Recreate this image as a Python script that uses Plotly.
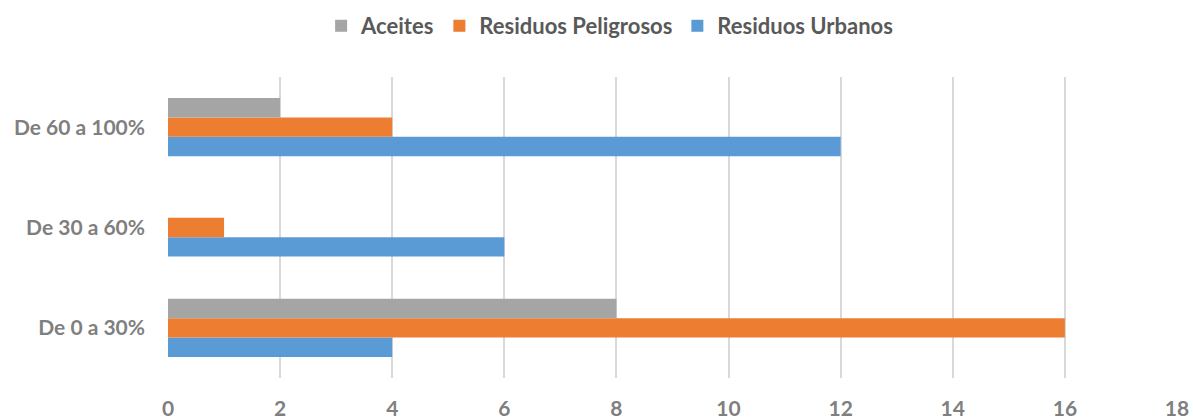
import plotly.graph_objects as go

categories = ["De 0 a 30%", "De 30 a 60%", "De 60 a 100%"]
urbanos = [4, 6, 12]
peligrosos = [16, 1, 4]
aceites = [8, 0, 2]
x_ticks = [0, 2, 4, 6, 8, 10, 12, 14, 16, 18]

fig = go.Figure()
fig.add_trace(go.Bar(y=categories, x=urbanos, name="Residuos Urbanos", orientation="h",
                     marker=dict(color="#5B9BD5", line=dict(width=0))))
fig.add_trace(go.Bar(y=categories, x=peligrosos, name="Residuos Peligrosos", orientation="h",
                     marker=dict(color="#ED7D31", line=dict(width=0))))
fig.add_trace(go.Bar(y=categories, x=aceites, name="Aceites", orientation="h",
                     marker=dict(color="#A5A5A5", line=dict(width=0))))

tick_font = dict(size=21, color="#7F7F7F", family="Lato", weight="bold")

fig.update_layout(
    width=1193, height=419,
    margin=dict(l=168, r=16, t=77, b=41),
    paper_bgcolor="white", plot_bgcolor="white",
    barmode="group", bargap=0.42, bargroupgap=0,
    font=dict(family="Lato", size=21, color="#7F7F7F"),
    legend=dict(orientation="h", traceorder="reversed", xref="container", yref="container",
                x=0.511, xanchor="center", y=0.938, yanchor="middle",
                font=dict(size=22, color="#595959", family="Lato", weight="bold"),
                itemwidth=30),
    xaxis=dict(range=[0, 18], tickvals=x_ticks, showgrid=True, gridcolor="#D9D9D9", gridwidth=2,
               zeroline=False, showline=False, ticks="", ticklabelstandoff=16,
               automargin=False, tickfont=tick_font),
    yaxis=dict(showgrid=False, zeroline=False, showline=False, ticks="", ticklabelstandoff=22,
               automargin=False, tickfont=tick_font),
    showlegend=True,
)

fig.write_html(
    "out.html",
    config={"displayModeBar": False},
    post_script="document.body.style.margin='0';document.body.style.overflow='hidden';",
)
